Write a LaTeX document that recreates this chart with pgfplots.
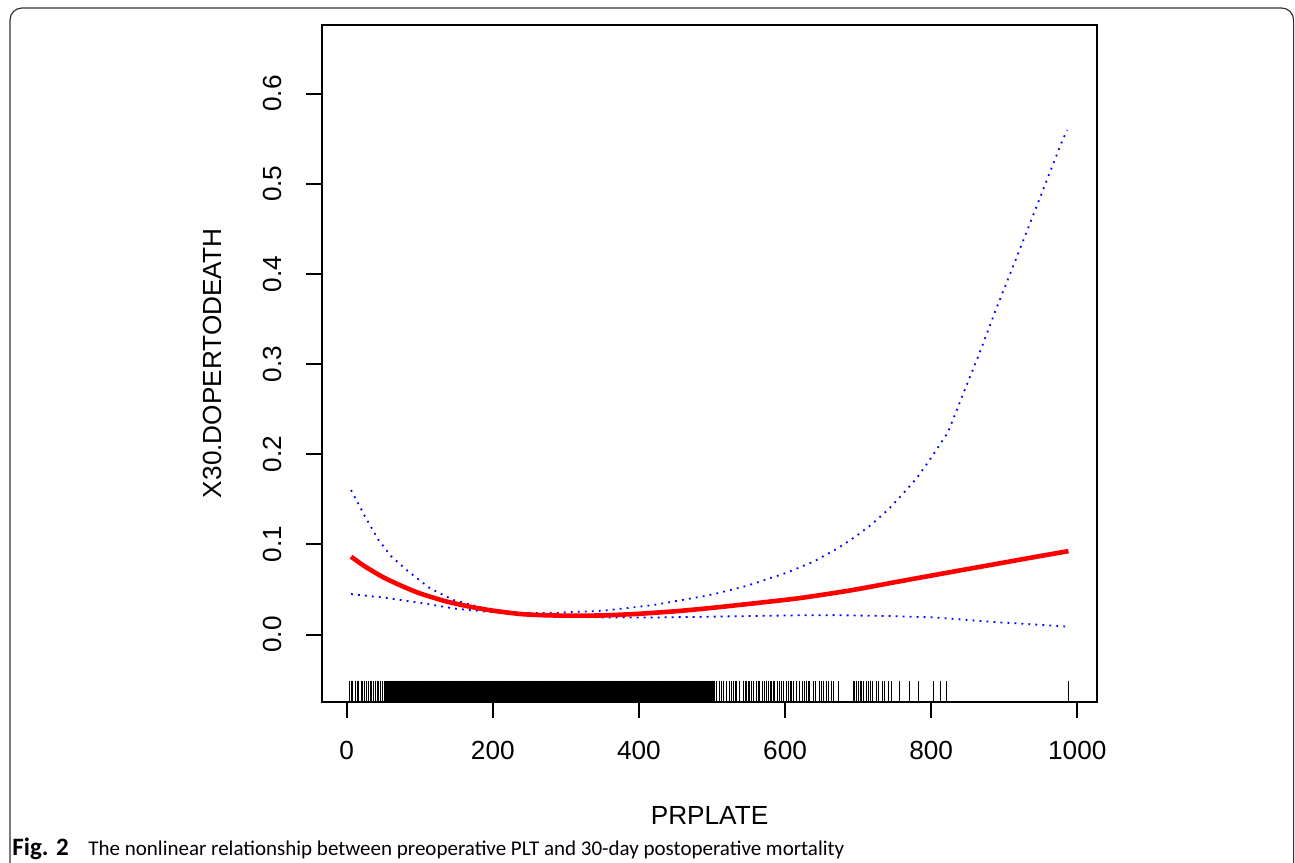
\documentclass[border=0pt]{standalone}
\usepackage{pgfplots}
\pgfplotsset{compat=1.18}
\usepackage{fontspec}
\setmainfont{Liberation Sans}
\newfontfamily\capfont{Carlito}
\begin{document}
\begin{tikzpicture}
\useasboundingbox (0pt,0pt) rectangle (647.5pt,431pt);
\clip (0pt,0pt) rectangle (647.5pt,431pt);
\draw[rounded corners=6pt, line width=0.6pt, black!80] (5pt,-30pt) rectangle (646.8pt,427pt);
\begin{axis}[
  at={(161pt,80.15pt)}, anchor=south west,
  scale only axis, width=387.5pt, height=338.35pt,
  xmin=-33.8, xmax=1027, ymin=-0.0745, ymax=0.676,
  axis line style={line width=1pt},
  every tick/.style={black, line width=1pt},
  tick align=outside, major tick length=8pt, tick pos=left,
  xtick={0,200,400,600,800,1000},
  xticklabels={0,200,400,600,800,1000},
  ytick={0,0.1,0.2,0.3,0.4,0.5,0.6},
  yticklabels={0.0,0.1,0.2,0.3,0.4,0.5,0.6},
  tick label style={font=\fontsize{13.1}{15}\selectfont},
  xticklabel shift=8pt,
  yticklabel style={rotate=90, anchor=south},
  yticklabel shift=8.5pt,
  xlabel={PRPLATE}, ylabel={X30.DOPERTODEATH},
  label style={font=\fontsize{13.1}{15}\selectfont},
  xlabel style={at={(axis description cs:0.5,-0.1677)}, anchor=center},
  ylabel style={at={(axis description cs:-0.1419,0.5)}, anchor=center},
]
% rug (dense part)
\addplot[only marks, mark=|, mark size=5.25pt, mark options={line width=0.8pt, black}] coordinates {
(52,-0.0628)(54,-0.0628)(56,-0.0628)(58,-0.0628)(60,-0.0628)(62,-0.0628)(64,-0.0628)(66,-0.0628)(68,-0.0628)(70,-0.0628)
(72,-0.0628)(74,-0.0628)(76,-0.0628)(78,-0.0628)(80,-0.0628)(82,-0.0628)(84,-0.0628)(86,-0.0628)(88,-0.0628)(90,-0.0628)
(92,-0.0628)(94,-0.0628)(96,-0.0628)(98,-0.0628)(100,-0.0628)(102,-0.0628)(104,-0.0628)(106,-0.0628)(108,-0.0628)(110,-0.0628)
(112,-0.0628)(114,-0.0628)(116,-0.0628)(118,-0.0628)(120,-0.0628)(122,-0.0628)(124,-0.0628)(126,-0.0628)(128,-0.0628)(130,-0.0628)
(132,-0.0628)(134,-0.0628)(136,-0.0628)(138,-0.0628)(140,-0.0628)(142,-0.0628)(144,-0.0628)(146,-0.0628)(148,-0.0628)(150,-0.0628)
(152,-0.0628)(154,-0.0628)(156,-0.0628)(158,-0.0628)(160,-0.0628)(162,-0.0628)(164,-0.0628)(166,-0.0628)(168,-0.0628)(170,-0.0628)
(172,-0.0628)(174,-0.0628)(176,-0.0628)(178,-0.0628)(180,-0.0628)(182,-0.0628)(184,-0.0628)(186,-0.0628)(188,-0.0628)(190,-0.0628)
(192,-0.0628)(194,-0.0628)(196,-0.0628)(198,-0.0628)(200,-0.0628)(202,-0.0628)(204,-0.0628)(206,-0.0628)(208,-0.0628)(210,-0.0628)
(212,-0.0628)(214,-0.0628)(216,-0.0628)(218,-0.0628)(220,-0.0628)(222,-0.0628)(224,-0.0628)(226,-0.0628)(228,-0.0628)(230,-0.0628)
(232,-0.0628)(234,-0.0628)(236,-0.0628)(238,-0.0628)(240,-0.0628)(242,-0.0628)(244,-0.0628)(246,-0.0628)(248,-0.0628)(250,-0.0628)
(252,-0.0628)(254,-0.0628)(256,-0.0628)(258,-0.0628)(260,-0.0628)(262,-0.0628)(264,-0.0628)(266,-0.0628)(268,-0.0628)(270,-0.0628)
(272,-0.0628)(274,-0.0628)(276,-0.0628)(278,-0.0628)(280,-0.0628)(282,-0.0628)(284,-0.0628)(286,-0.0628)(288,-0.0628)(290,-0.0628)
(292,-0.0628)(294,-0.0628)(296,-0.0628)(298,-0.0628)(300,-0.0628)(302,-0.0628)(304,-0.0628)(306,-0.0628)(308,-0.0628)(310,-0.0628)
(312,-0.0628)(314,-0.0628)(316,-0.0628)(318,-0.0628)(320,-0.0628)(322,-0.0628)(324,-0.0628)(326,-0.0628)(328,-0.0628)(330,-0.0628)
(332,-0.0628)(334,-0.0628)(336,-0.0628)(338,-0.0628)(340,-0.0628)(342,-0.0628)(344,-0.0628)(346,-0.0628)(348,-0.0628)(350,-0.0628)
(352,-0.0628)(354,-0.0628)(356,-0.0628)(358,-0.0628)(360,-0.0628)(362,-0.0628)(364,-0.0628)(366,-0.0628)(368,-0.0628)(370,-0.0628)
(372,-0.0628)(374,-0.0628)(376,-0.0628)(378,-0.0628)(380,-0.0628)(382,-0.0628)(384,-0.0628)(386,-0.0628)(388,-0.0628)(390,-0.0628)
(392,-0.0628)(394,-0.0628)(396,-0.0628)(398,-0.0628)(400,-0.0628)(402,-0.0628)(404,-0.0628)(406,-0.0628)(408,-0.0628)(410,-0.0628)
(412,-0.0628)(414,-0.0628)(416,-0.0628)(418,-0.0628)(420,-0.0628)(422,-0.0628)(424,-0.0628)(426,-0.0628)(428,-0.0628)(430,-0.0628)
(432,-0.0628)(434,-0.0628)(436,-0.0628)(438,-0.0628)(440,-0.0628)(442,-0.0628)(444,-0.0628)(446,-0.0628)(448,-0.0628)(450,-0.0628)
(452,-0.0628)(454,-0.0628)(456,-0.0628)(458,-0.0628)(460,-0.0628)(462,-0.0628)(464,-0.0628)(466,-0.0628)(468,-0.0628)(470,-0.0628)
(472,-0.0628)(474,-0.0628)(476,-0.0628)(478,-0.0628)(480,-0.0628)(482,-0.0628)(484,-0.0628)(486,-0.0628)(488,-0.0628)(490,-0.0628)
(492,-0.0628)(494,-0.0628)(496,-0.0628)(498,-0.0628)(500,-0.0628)(502,-0.0628)
};
% rug (sparse part)
\addplot[only marks, mark=|, mark size=5.25pt, mark options={line width=0.5pt, black}] coordinates {
(4.5,-0.0628)(6,-0.0628)(8.3,-0.0628)(11.4,-0.0628)(12.7,-0.0628)(14.6,-0.0628)(16.8,-0.0628)(19.6,-0.0628)(21.9,-0.0628)(24.1,-0.0628)
(27.4,-0.0628)(29.2,-0.0628)(31.9,-0.0628)(34.2,-0.0628)(36.4,-0.0628)(39.2,-0.0628)(41.9,-0.0628)(44.2,-0.0628)(46.5,-0.0628)(49.3,-0.0628)
(504,-0.0628)(506.4,-0.0628)(510,-0.0628)(513.3,-0.0628)(516.4,-0.0628)(520.1,-0.0628)(523.7,-0.0628)(527,-0.0628)(529.2,-0.0628)(531.5,-0.0628)
(533.8,-0.0628)(538.3,-0.0628)(542.9,-0.0628)(545.2,-0.0628)(547.5,-0.0628)(549.7,-0.0628)(552,-0.0628)(554.3,-0.0628)(556.5,-0.0628)(561.2,-0.0628)
(563.4,-0.0628)(565.7,-0.0628)(569.4,-0.0628)(572.5,-0.0628)(574.9,-0.0628)(577.1,-0.0628)(579.4,-0.0628)(581.7,-0.0628)(583.9,-0.0628)(586.2,-0.0628)
(589.4,-0.0628)(592.1,-0.0628)(595.4,-0.0628)(597.6,-0.0628)(601.3,-0.0628)(604.4,-0.0628)(606.8,-0.0628)(609.1,-0.0628)(612.2,-0.0628)(615.9,-0.0628)
(620.4,-0.0628)(624.1,-0.0628)(627.3,-0.0628)(629.6,-0.0628)(631.8,-0.0628)(634.1,-0.0628)(638.7,-0.0628)(641,-0.0628)(647.8,-0.0628)(650.1,-0.0628)
(652.4,-0.0628)(657,-0.0628)(659.2,-0.0628)(663.8,-0.0628)(666.1,-0.0628)(672.9,-0.0628)(693.4,-0.0628)(695.7,-0.0628)(698,-0.0628)(700.3,-0.0628)
(702.6,-0.0628)(704.9,-0.0628)(707.1,-0.0628)(711.7,-0.0628)(713.9,-0.0628)(716.3,-0.0628)(719.9,-0.0628)(724.5,-0.0628)(727.6,-0.0628)(733.6,-0.0628)
(736.8,-0.0628)(741.3,-0.0628)(745.9,-0.0628)(757.3,-0.0628)(771,-0.0628)(782.4,-0.0628)(802.9,-0.0628)(812.1,-0.0628)(821.2,-0.0628)(987.7,-0.0628)
};
% upper confidence limit
\addplot[blue, line width=0.9pt, dash pattern=on 0.9pt off 2.6pt] coordinates {
(6,0.1602)(25,0.1310)(43,0.1056)(60,0.0875)(82,0.0715)(114,0.0512)(146,0.0383)(192,0.0283)(237,0.0238)(283,0.0240)
(351,0.0264)(420,0.0327)(490,0.0427)(511,0.0464)(548,0.0541)(602,0.0685)(639,0.0808)(672,0.0956)(697,0.1089)(719,0.1225)
(741,0.1384)(761,0.1558)(780,0.1732)(797,0.1924)(813,0.2120)(823,0.2242)(841,0.2612)(866,0.3118)(890,0.3633)(915,0.4142)
(936,0.4575)(957,0.5011)(978,0.5447)(986,0.5595)
};
% lower confidence limit
\addplot[blue, line width=0.9pt, dash pattern=on 0.9pt off 2.6pt] coordinates {
(6,0.0449)(50,0.0410)(100,0.0353)(146,0.0290)(169,0.0270)(200,0.0248)(237,0.0227)(290,0.0203)(329,0.0192)(380,0.0188)
(420,0.0189)(484,0.0196)(560,0.0206)(620,0.0213)(666,0.0215)(740,0.0205)(803,0.0190)(849,0.0162)(894,0.0135)(940,0.0112)
(988,0.0087)
};
% fitted curve
\addplot[red, line width=2.3pt, smooth, tension=0.4] coordinates {
(6,0.0863)(25,0.0755)(50,0.0635)(75,0.0540)(100,0.0457)(135,0.0370)(169,0.0308)(200,0.0265)(237,0.0228)(270,0.0214)
(306,0.0209)(350,0.0212)(400,0.0230)(450,0.0258)(484,0.0283)(511,0.0305)(560,0.0348)(621,0.0405)(690,0.0490)(757,0.0590)
(825,0.0690)(894,0.0790)(940,0.0857)(988,0.0925)
};
\end{axis}
\node[anchor=base west, inner sep=0pt, font=\capfont\fontsize{12.5}{14}\selectfont] at (6pt,3.5pt) {\textbf{Fig. 2}};
\node[anchor=base west, inner sep=0pt, font=\capfont\fontsize{10.5}{12}\selectfont] at (44pt,3.5pt) {The nonlinear relationship between preoperative PLT and 30-day postoperative mortality};
\end{tikzpicture}
\end{document}
